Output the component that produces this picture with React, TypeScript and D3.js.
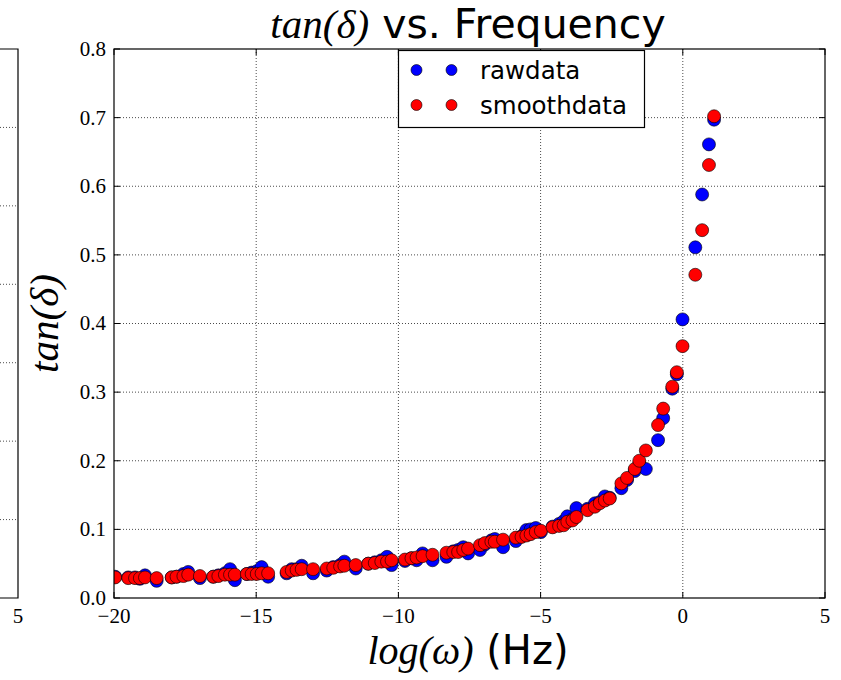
import React from "react";
import * as d3 from "d3";

// log(omega) positions shared by both series
const logOmega = [
  -19.96, -19.5, -19.26, -19.09, -18.91, -18.5, -17.97, -17.8, -17.56, -17.39,
  -16.98, -16.51, -16.33, -16.1, -15.92, -15.75, -15.33, -15.16, -14.98, -14.81,
  -14.58, -13.93, -13.75, -13.58, -13.4, -13.0, -12.52, -12.29, -12.05, -11.9,
  -11.5, -11.06, -10.83, -10.6, -10.4, -10.24, -9.77, -9.54, -9.36, -9.15,
  -8.8, -8.31, -8.07, -7.9, -7.72, -7.55, -7.13, -6.96, -6.73, -6.61,
  -6.32, -5.87, -5.67, -5.5, -5.35, -5.17, -4.99, -4.58, -4.35, -4.19,
  -4.06, -3.88, -3.74, -3.35, -3.09, -2.92, -2.74, -2.57, -2.16, -1.96,
  -1.69, -1.53, -1.3, -0.87, -0.69, -0.37, -0.21, -0.01, 0.44, 0.68,
  0.92, 1.1,
];

const rawData = [
  0.031, 0.03, 0.03, 0.028, 0.033, 0.025, 0.03, 0.031, 0.035, 0.038,
  0.029, 0.031, 0.033, 0.036, 0.042, 0.026, 0.035, 0.037, 0.039, 0.045,
  0.031, 0.036, 0.042, 0.042, 0.047, 0.036, 0.04, 0.045, 0.048, 0.053,
  0.043, 0.05, 0.052, 0.055, 0.06, 0.048, 0.054, 0.058, 0.055, 0.065,
  0.055, 0.06, 0.068, 0.07, 0.074, 0.065, 0.07, 0.078, 0.084, 0.086,
  0.074, 0.083, 0.09, 0.099, 0.1, 0.102, 0.096, 0.104, 0.108, 0.112,
  0.119, 0.115, 0.131, 0.13, 0.138, 0.14, 0.148, 0.146, 0.16, 0.172,
  0.185, 0.196, 0.188, 0.23, 0.262, 0.305, 0.326, 0.406, 0.511, 0.588,
  0.661, 0.697,
];

const smoothData = [
  0.03, 0.029, 0.029, 0.029, 0.03, 0.029, 0.03, 0.031, 0.032, 0.034,
  0.032, 0.031, 0.032, 0.034, 0.034, 0.034, 0.035, 0.035, 0.035, 0.036,
  0.036, 0.038, 0.04, 0.041, 0.042, 0.042, 0.043, 0.044, 0.046, 0.047,
  0.048, 0.05, 0.051, 0.053, 0.053, 0.055, 0.056, 0.058, 0.059, 0.061,
  0.063, 0.066, 0.067, 0.067, 0.07, 0.072, 0.077, 0.08, 0.082, 0.082,
  0.085, 0.088, 0.089, 0.091, 0.093, 0.096, 0.098, 0.103, 0.105, 0.106,
  0.111, 0.113, 0.118, 0.128, 0.133, 0.138, 0.142, 0.145, 0.167, 0.175,
  0.188, 0.2, 0.215, 0.252, 0.276, 0.308, 0.329, 0.367, 0.471, 0.536,
  0.631, 0.702,
];

const xTicks = [-20, -15, -10, -5, 0, 5];
const yTicks = [0, 0.1, 0.2, 0.3, 0.4, 0.5, 0.6, 0.7, 0.8];
const leftPanelTicks = [1, 2, 3, 4, 5, 6];

const W = 841;
const H = 680;
const plot = { left: 114, right: 825, top: 49, bottom: 598 };
const tickFont = "'Liberation Serif', 'DejaVu Serif', serif";
const mathFont = "'Liberation Serif', 'DejaVu Serif', serif";
const sansFont = "'DejaVu Sans', sans-serif";

const fmtX = (v: number) => (v < 0 ? "\u2212" + Math.abs(v) : String(v));

export default function App() {
  const x = d3.scaleLinear().domain([-20, 5]).range([plot.left, plot.right]);
  const y = d3.scaleLinear().domain([0, 0.8]).range([plot.bottom, plot.top]);
  // partial neighbouring panel cut off on the left
  const yLeft = d3.scaleLinear().domain([0, 7]).range([plot.bottom, plot.top]);

  const gridStyle = {
    stroke: "#000",
    strokeWidth: 1,
    strokeDasharray: "1,2",
    opacity: 0.7,
  };

  const raw = logOmega.map((v, i) => ({ x: v, y: rawData[i] }));
  const smooth = logOmega.map((v, i) => ({ x: v, y: smoothData[i] }));

  return (
    <svg
      width={W}
      height={H}
      style={{ position: "absolute", left: 0, top: 0, background: "#fff" }}
    >
      <defs>
        <clipPath id="plotClip">
          <rect
            x={plot.left}
            y={plot.top}
            width={plot.right - plot.left}
            height={plot.bottom - plot.top}
          />
        </clipPath>
      </defs>
      <rect width={W} height={H} fill="#fff" />

      {/* left neighbouring panel (cropped) */}
      <g>
        {leftPanelTicks.map((t) => (
          <line key={t} x1={0} x2={18} y1={yLeft(t)} y2={yLeft(t)} {...gridStyle} />
        ))}
        <path
          d={`M0,${plot.top}H18V${plot.bottom}H0`}
          fill="none"
          stroke="#000"
          strokeWidth={1.2}
        />
        <text
          x={18}
          y={623}
          textAnchor="middle"
          fontFamily={tickFont}
          fontSize={21}
        >
          5
        </text>
      </g>

      {/* grid */}
      <g>
        {xTicks.slice(1, -1).map((t) => (
          <line key={t} x1={x(t)} x2={x(t)} y1={plot.top} y2={plot.bottom} {...gridStyle} />
        ))}
        {yTicks.slice(1, -1).map((t) => (
          <line key={t} x1={plot.left} x2={plot.right} y1={y(t)} y2={y(t)} {...gridStyle} />
        ))}
      </g>

      {/* data */}
      <g clipPath="url(#plotClip)">
        {raw.map((d, i) => (
          <circle
            key={"r" + i}
            cx={x(d.x)}
            cy={y(d.y)}
            r={6.5}
            fill="#0000ff"
            stroke="#000"
            strokeWidth={0.6}
          />
        ))}
        {smooth.map((d, i) => (
          <circle
            key={"s" + i}
            cx={x(d.x)}
            cy={y(d.y)}
            r={6.5}
            fill="#ff0000"
            stroke="#000"
            strokeWidth={0.6}
          />
        ))}
      </g>

      {/* ticks (inward, all sides) */}
      <g stroke="#000" strokeWidth={1}>
        {xTicks.map((t) => (
          <g key={t}>
            <line x1={x(t)} x2={x(t)} y1={plot.bottom} y2={plot.bottom - 6} />
            <line x1={x(t)} x2={x(t)} y1={plot.top} y2={plot.top + 6} />
          </g>
        ))}
        {yTicks.map((t) => (
          <g key={t}>
            <line x1={plot.left} x2={plot.left + 6} y1={y(t)} y2={y(t)} />
            <line x1={plot.right} x2={plot.right - 6} y1={y(t)} y2={y(t)} />
          </g>
        ))}
      </g>

      {/* frame */}
      <rect
        x={plot.left}
        y={plot.top}
        width={plot.right - plot.left}
        height={plot.bottom - plot.top}
        fill="none"
        stroke="#000"
        strokeWidth={1.2}
      />

      {/* tick labels */}
      <g fontFamily={tickFont} fontSize={21} fill="#000">
        {xTicks.map((t) => (
          <text key={t} x={x(t)} y={623} textAnchor="middle">
            {fmtX(t)}
          </text>
        ))}
        {yTicks.map((t) => (
          <text key={t} x={106} y={y(t)} dy="0.33em" textAnchor="end">
            {t.toFixed(1)}
          </text>
        ))}
      </g>

      {/* legend */}
      <g>
        <rect x={398.5} y={50.5} width={246} height={77} fill="#fff" stroke="#000" strokeWidth={1.2} />
        {[
          { label: "rawdata", color: "#0000ff", cy: 70 },
          { label: "smoothdata", color: "#ff0000", cy: 105 },
        ].map((e) => (
          <g key={e.label}>
            <circle cx={416.5} cy={e.cy} r={5.5} fill={e.color} stroke="#000" strokeWidth={0.6} />
            <circle cx={451.5} cy={e.cy} r={5.5} fill={e.color} stroke="#000" strokeWidth={0.6} />
            <text x={480} y={e.cy} dy="0.35em" fontFamily={sansFont} fontSize={24.5}>
              {e.label}
            </text>
          </g>
        ))}
      </g>

      {/* title */}
      <text x={468} y={38} textAnchor="middle" fontSize={41}>
        <tspan fontFamily={mathFont} fontStyle="italic">
          tan(δ)
        </tspan>
        <tspan fontFamily={sansFont}> vs. Frequency</tspan>
      </text>

      {/* x label */}
      <text x={468} y={664} textAnchor="middle" fontSize={40}>
        <tspan fontFamily={mathFont} fontStyle="italic">
          log(ω)
        </tspan>
        <tspan fontFamily={sansFont}> (Hz)</tspan>
      </text>

      {/* y label */}
      <text
        transform={`translate(58,${(plot.top + plot.bottom) / 2}) rotate(-90)`}
        textAnchor="middle"
        fontFamily={mathFont}
        fontStyle="italic"
        fontSize={41}
      >
        tan(δ)
      </text>
    </svg>
  );
}
